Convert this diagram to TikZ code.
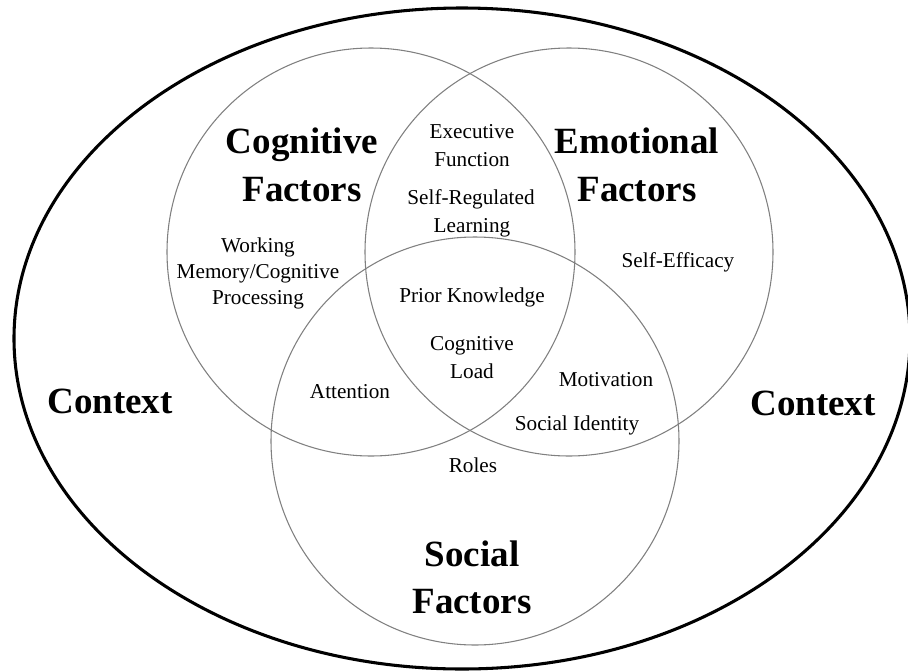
\documentclass[tikz,border=0pt]{standalone}
\usepackage{fontspec}
\setmainfont{Liberation Serif}
\begin{document}
\begin{tikzpicture}[x=0.75pt,y=-0.75pt,
  venn/.style={draw=black!50,line width=0.8pt},
  outer/.style={draw=black,line width=2.3pt},
  head/.style={anchor=base,inner sep=0pt,font=\fontsize{27.75}{30}\selectfont\bfseries},
  lbl/.style={anchor=base,inner sep=0pt,font=\fontsize{15.9}{18}\selectfont}]
\useasboundingbox (0,0) rectangle (908,672);
\fill[white] (0,0) rectangle (908,672);
% outer context ellipse
\draw[outer] (462,338.5) ellipse [x radius=448, y radius=330.5];
% three circles
\coordinate (cc) at (371,252);
\coordinate (ce) at (569,252);
\coordinate (cs) at (475,441);
\draw[venn] (cc) circle [radius=204];
\draw[venn] (ce) circle [radius=204];
\draw[venn] (cs) circle [radius=204];
% headings
\node[head] (cog1) at (302,153) {Cognitive};
\node[head] (cog2) at (302,201) {Factors};
\node[head] (emo1) at (637,153) {Emotional};
\node[head] (emo2) at (637,201) {Factors};
\node[head] (soc1) at (472,566) {Social};
\node[head] (soc2) at (472,613) {Factors};
\node[head] (ctxl) at (110,413) {Context};
\node[head] (ctxr) at (813,415) {Context};
% labels
\node[lbl] (ef1) at (472,138) {Executive};
\node[lbl] (ef2) at (472,166) {Function};
\node[lbl] (srl1) at (471,204) {Self-Regulated};
\node[lbl] (srl2) at (472,232) {Learning};
\node[lbl] (wm1) at (258,252) {Working};
\node[lbl] (wm2) at (258,278) {Memory/Cognitive};
\node[lbl] (wm3) at (258,304) {Processing};
\node[lbl] (se) at (678,267) {Self-Efficacy};
\node[lbl] (pk) at (472,302) {Prior Knowledge};
\node[lbl] (cl1) at (472,350) {Cognitive};
\node[lbl] (cl2) at (472,378) {Load};
\node[lbl] (att) at (350,398) {Attention};
\node[lbl] (mot) at (606,386) {Motivation};
\node[lbl] (sid) at (577,430) {Social Identity};
\node[lbl] (rol) at (473,472) {Roles};
\end{tikzpicture}
\end{document}
